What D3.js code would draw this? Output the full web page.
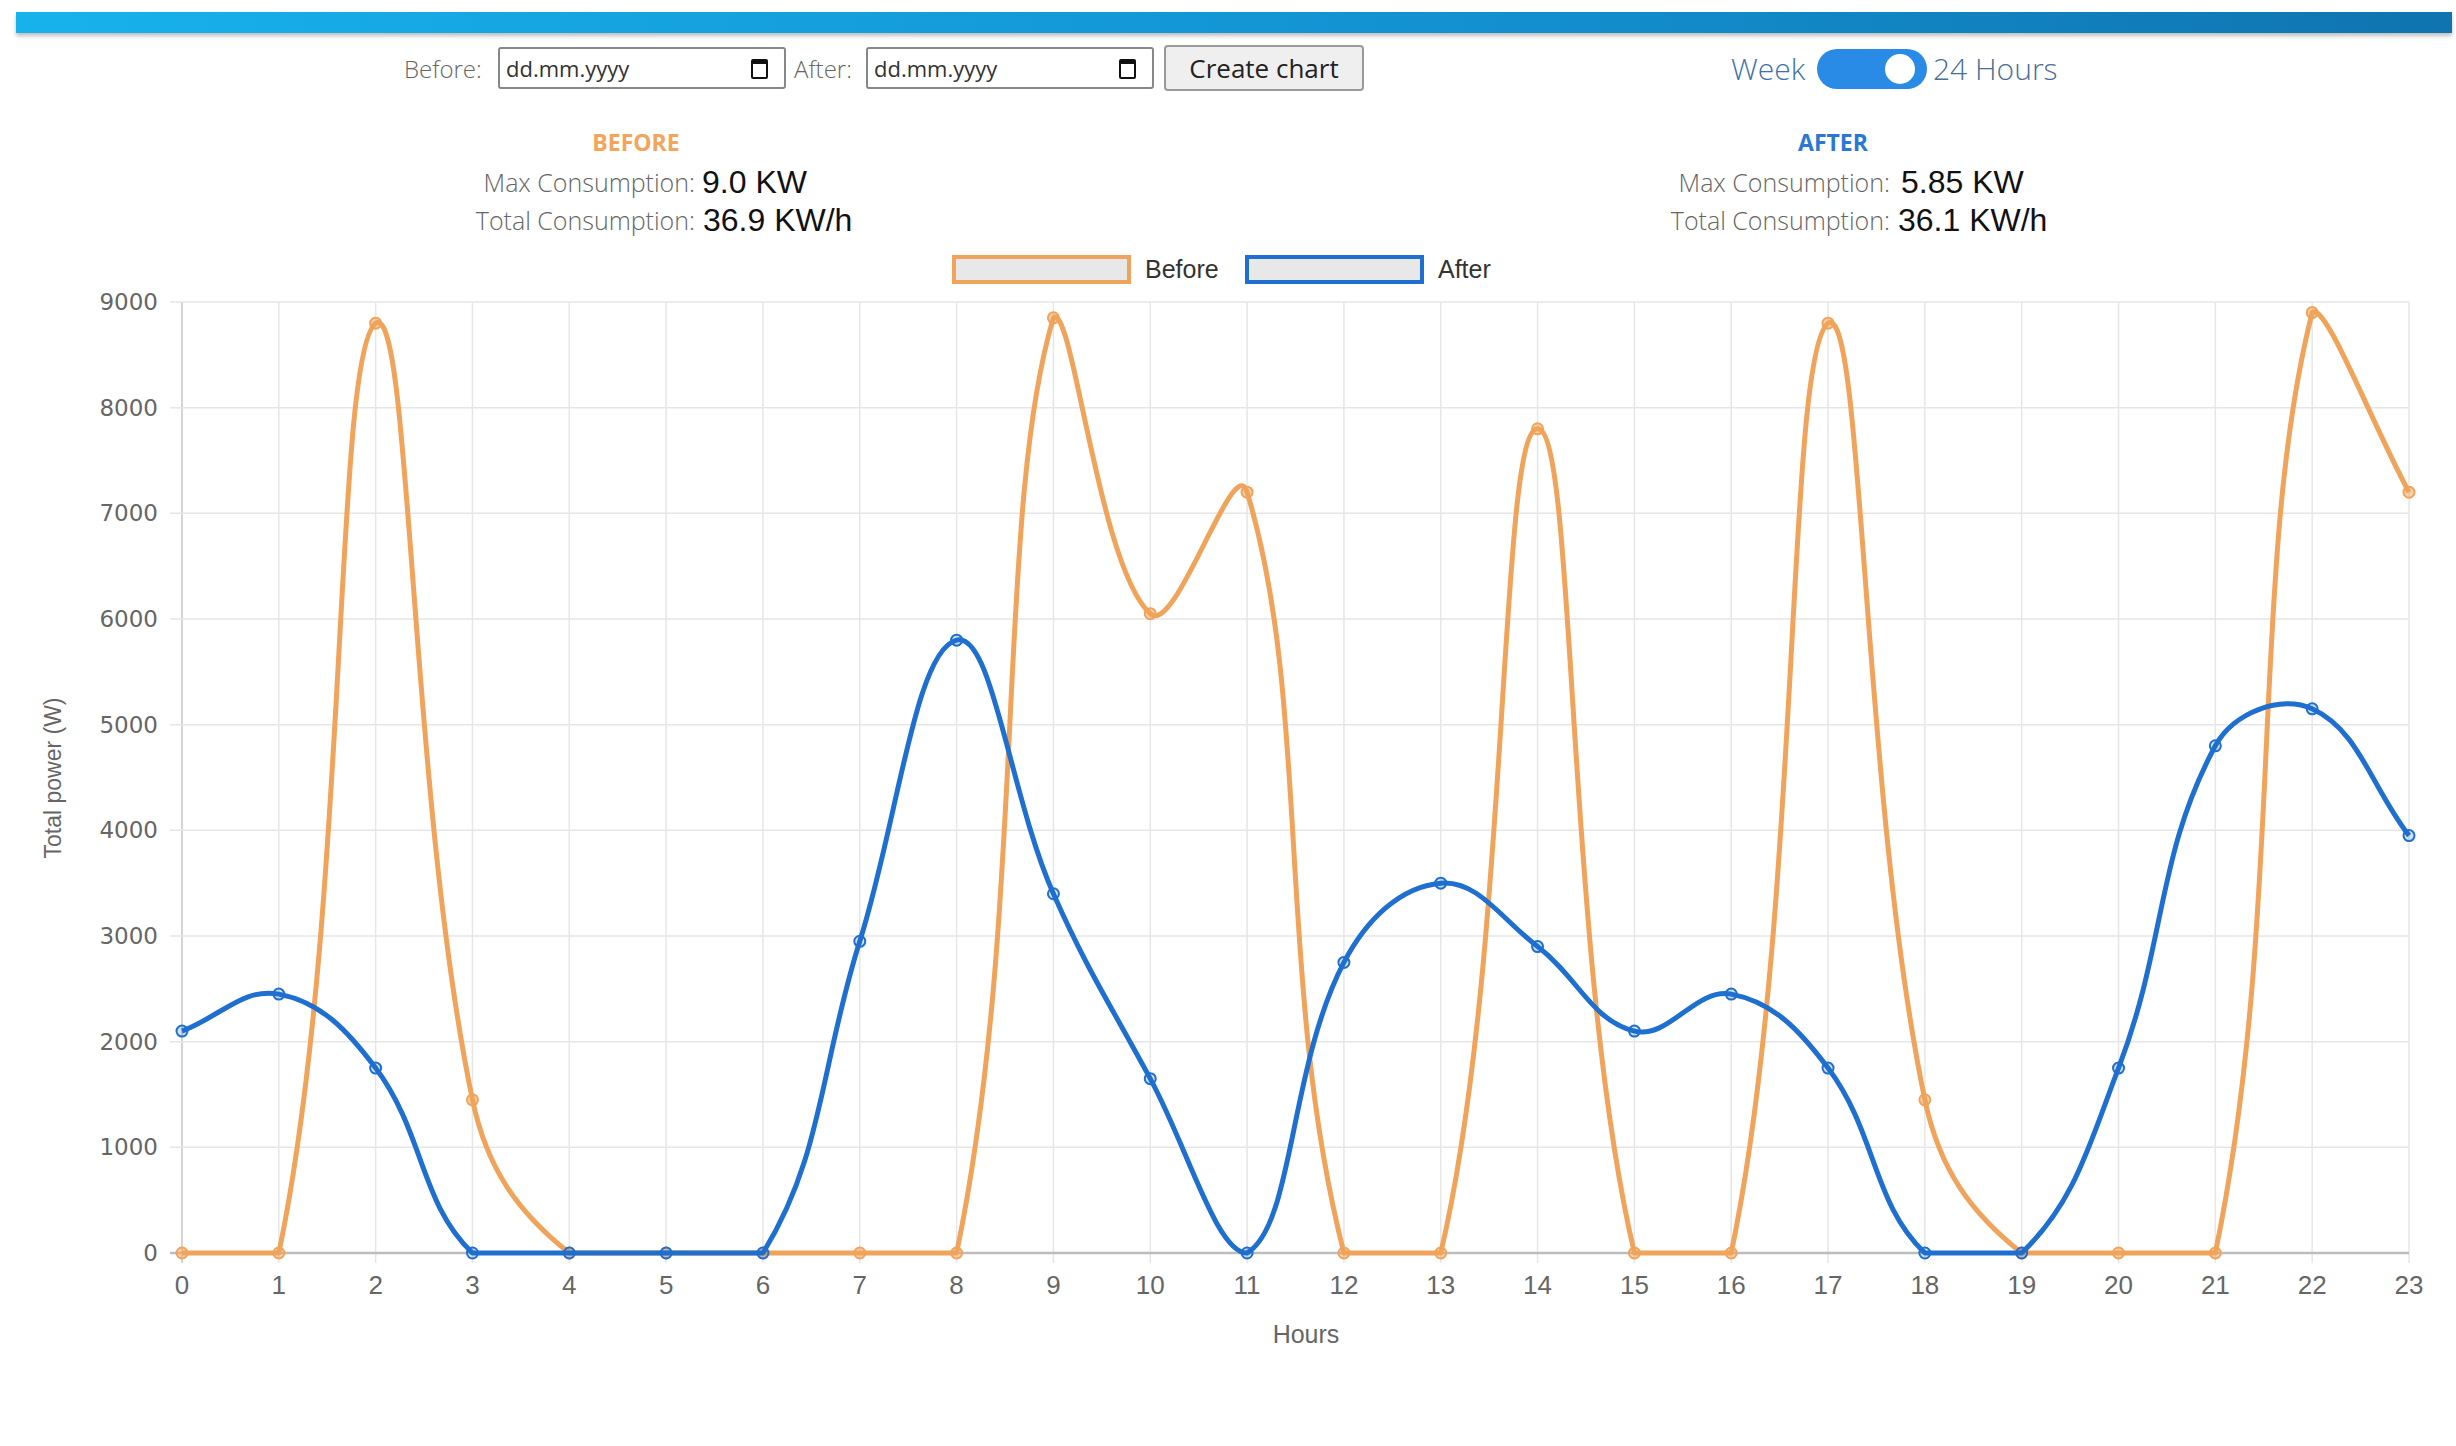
<!DOCTYPE html>
<html lang="en">
<head>
<meta charset="utf-8">
<title>Consumption</title>
<script src="https://cdn.jsdelivr.net/npm/d3@7"></script>
<style>
  body { margin: 0; background: #fff; font-family: "Open Sans", sans-serif; }
  #page { position: relative; width: 2456px; height: 1446px; overflow: hidden; }
  .topbar { position: absolute; left: 16px; top: 12px; width: 2436px; height: 21px;
    background: linear-gradient(to right, #17b2ec, #1390d0 60%, #0f74b0);
    box-shadow: 0 3px 4px rgba(0,0,0,0.25); }
  .abs { position: absolute; white-space: nowrap; }
  .lbl { font-size: 24px; color: #666; font-weight: 300; }
  .date { border: 2px solid #888; border-radius: 3px; background: #fff; height: 42px; box-sizing: border-box;
    font-size: 22px; color: #333; line-height: 38px; padding-left: 6px; }
  .cal { position: absolute; right: 16px; top: 10px; width: 13px; height: 13px; border: 2px solid #111;
    border-top-width: 5px; border-radius: 2px; }
  .btn { background: #efefef; border: 2px solid #999; border-radius: 4px; box-sizing: border-box;
    font-size: 26px; color: #222; text-align: center; line-height: 42px; }
  .toggle { background: #2a8be6; border-radius: 20px; }
  .knob { position: absolute; width: 30px; height: 30px; border-radius: 50%; background: #fff; top: 5px; right: 12px; }
  .head { font-size: 23px; font-weight: 700; text-align: center; }
  .key { font-size: 25px; color: #666; font-weight: 300; text-align: right; }
  .val { font-family: "Liberation Sans", Arial, sans-serif; font-size: 32px; color: #111; }
</style>
</head>
<body>
<div id="page">
  <div class="topbar"></div>

  <div class="abs lbl" style="left:404px; top:52px;">Before:</div>
  <div class="abs date" style="left:498px; top:47px; width:288px;">dd.mm.yyyy<div class="cal"></div></div>
  <div class="abs lbl" style="left:794px; top:52px;">After:</div>
  <div class="abs date" style="left:866px; top:47px; width:288px;">dd.mm.yyyy<div class="cal"></div></div>
  <div class="abs btn" style="left:1164px; top:45px; width:200px; height:46px;">Create chart</div>

  <div class="abs" style="left:1731px; top:48px; font-size:30px; color:#3f72aa; font-weight:300;">Week</div>
  <div class="abs toggle" style="left:1817px; top:49px; width:110px; height:40px;"><div class="knob"></div></div>
  <div class="abs" style="left:1933px; top:48px; font-size:30px; color:#4a6f96; font-weight:300;">24 Hours</div>

  <div class="abs head" style="left:536px; top:126px; width:200px; color:#f2a55b;">BEFORE</div>
  <div class="abs key" style="left:395px; top:165px; width:300px;">Max Consumption:</div>
  <div class="abs val" id="bMax" style="left:702px; top:164px;"></div>
  <div class="abs key" style="left:395px; top:203px; width:300px;">Total Consumption:</div>
  <div class="abs val" id="bTot" style="left:703px; top:202px;"></div>

  <div class="abs head" style="left:1733px; top:126px; width:200px; color:#2a78d4;">AFTER</div>
  <div class="abs key" style="left:1590px; top:165px; width:300px;">Max Consumption:</div>
  <div class="abs val" id="aMax" style="left:1901px; top:164px;"></div>
  <div class="abs key" style="left:1590px; top:203px; width:300px;">Total Consumption:</div>
  <div class="abs val" id="aTot" style="left:1898px; top:202px;"></div>

  <svg id="chart" class="abs" style="left:0; top:0;" width="2456" height="1446"></svg>
</div>

<script>
var hours = ["0","1","2","3","4","5","6","7","8","9","10","11","12","13","14","15","16","17","18","19","20","21","22","23"];
var before = [0, 0, 8800, 1450, 0, 0, 0, 0, 0, 8850, 6050, 7200, 0, 0, 7800, 0, 0, 8800, 1450, 0, 0, 0, 8900, 7200];
var after = [2100, 2450, 1750, 0, 0, 0, 0, 2950, 5800, 3400, 1650, 0, 2750, 3500, 2900, 2100, 2450, 1750, 0, 0, 1750, 4800, 5150, 3950];
var yTicks = [0, 1000, 2000, 3000, 4000, 5000, 6000, 7000, 8000, 9000];
var seriesNames = ["Before", "After"];
var summary = { bMax: "9.0 KW", bTot: "36.9 KW/h", aMax: "5.85 KW", aTot: "36.1 KW/h" };

Object.keys(summary).forEach(function (k) {
  document.getElementById(k).textContent = summary[k];
});

var orange = "#f0a35a", blue = "#1e6fd0";
var area = { left: 182, right: 2409, top: 302, bottom: 1253 };

var svg = d3.select("#chart");
var x = d3.scalePoint().domain(hours).range([area.left, area.right]);
var y = d3.scaleLinear().domain([0, 9000]).range([area.bottom, area.top]);

// grid
var grid = svg.append("g");
grid.selectAll(".vg").data(hours).enter().append("line")
  .attr("x1", function (d) { return x(d); }).attr("x2", function (d) { return x(d); })
  .attr("y1", area.top).attr("y2", area.bottom + 10)
  .attr("stroke", function (d, i) { return i == 0 ? "#d4d4d4" : "#e6e6e6"; })
  .attr("stroke-width", function (d, i) { return i == 0 ? 2 : 1.5; });
grid.selectAll(".hg").data(yTicks).enter().append("line")
  .attr("x1", area.left - 12).attr("x2", area.right)
  .attr("y1", function (d) { return y(d); }).attr("y2", function (d) { return y(d); })
  .attr("stroke", function (d) { return d == 0 ? "#bdbdbd" : "#e6e6e6"; })
  .attr("stroke-width", function (d) { return d == 0 ? 2.5 : 1.5; });

// tick labels
svg.append("g").selectAll("text").data(yTicks).enter().append("text")
  .attr("x", 158).attr("y", function (d) { return y(d) + 8; })
  .attr("text-anchor", "end")
  .attr("font-family", "DejaVu Sans, sans-serif").attr("font-size", 23).attr("fill", "#666")
  .text(function (d) { return d; });
svg.append("g").selectAll("text").data(hours).enter().append("text")
  .attr("x", function (d) { return x(d); }).attr("y", 1294)
  .attr("text-anchor", "middle")
  .attr("font-family", "Liberation Sans, Arial, sans-serif").attr("font-size", 26).attr("fill", "#666")
  .text(function (d) { return d; });

// axis titles
svg.append("text").attr("transform", "translate(61,778) rotate(-90)")
  .attr("text-anchor", "middle")
  .attr("font-family", "Liberation Sans, Arial, sans-serif").attr("font-size", 23).attr("fill", "#666")
  .text("Total power (W)");
svg.append("text").attr("x", 1306).attr("y", 1343)
  .attr("text-anchor", "middle")
  .attr("font-family", "Liberation Sans, Arial, sans-serif").attr("font-size", 25).attr("fill", "#666")
  .text("Hours");

// legend
var legend = svg.append("g").selectAll("g").data(seriesNames).enter().append("g")
  .attr("transform", function (d, i) { return "translate(" + (952 + i * 293) + ",255)"; });
legend.append("rect").attr("x", 2).attr("y", 2).attr("width", 175).attr("height", 25)
  .attr("fill", "#e8e8e8")
  .attr("stroke", function (d, i) { return i == 0 ? orange : blue; }).attr("stroke-width", 4);
legend.append("text").attr("x", 193).attr("y", 23)
  .attr("font-family", "Liberation Sans, Arial, sans-serif").attr("font-size", 25).attr("fill", "#333")
  .text(function (d) { return d; });

// Chart.js style bezier with tension 0.4, control points capped to the chart area
function splinePath(values) {
  var pts = values.map(function (v, i) { return { x: x(hours[i]), y: y(v) }; });
  var t = 0.4;
  pts.forEach(function (p, i) {
    var prev = pts[i - 1] || p, next = pts[i + 1] || p;
    var d01 = Math.hypot(p.x - prev.x, p.y - prev.y);
    var d12 = Math.hypot(next.x - p.x, next.y - p.y);
    var s01 = d01 / (d01 + d12), s12 = d12 / (d01 + d12);
    s01 = isNaN(s01) ? 0 : s01; s12 = isNaN(s12) ? 0 : s12;
    var fa = t * s01, fb = t * s12;
    p.cpx1 = p.x - fa * (next.x - prev.x); p.cpy1 = p.y - fa * (next.y - prev.y);
    p.cpx2 = p.x + fb * (next.x - prev.x); p.cpy2 = p.y + fb * (next.y - prev.y);
    p.cpx1 = Math.max(area.left, Math.min(area.right, p.cpx1));
    p.cpx2 = Math.max(area.left, Math.min(area.right, p.cpx2));
    p.cpy1 = Math.max(area.top, Math.min(area.bottom, p.cpy1));
    p.cpy2 = Math.max(area.top, Math.min(area.bottom, p.cpy2));
  });
  var path = d3.path();
  path.moveTo(pts[0].x, pts[0].y);
  for (var i = 1; i < pts.length; i++) {
    path.bezierCurveTo(pts[i - 1].cpx2, pts[i - 1].cpy2, pts[i].cpx1, pts[i].cpy1, pts[i].x, pts[i].y);
  }
  return path.toString();
}

function drawSeries(values, color, fillOp) {
  var g = svg.append("g");
  g.append("path").attr("d", splinePath(values))
    .attr("fill", "none").attr("stroke", color).attr("stroke-width", 5)
    .attr("stroke-linejoin", "round");
  g.selectAll("circle").data(values).enter().append("circle")
    .attr("cx", function (d, i) { return x(hours[i]); })
    .attr("cy", function (d) { return y(d); })
    .attr("r", 5.5)
    .attr("fill", color).attr("fill-opacity", fillOp)
    .attr("stroke", color).attr("stroke-width", 2);
}

drawSeries(before, orange, 0.5);
drawSeries(after, blue, 0.2);
</script>
</body>
</html>
